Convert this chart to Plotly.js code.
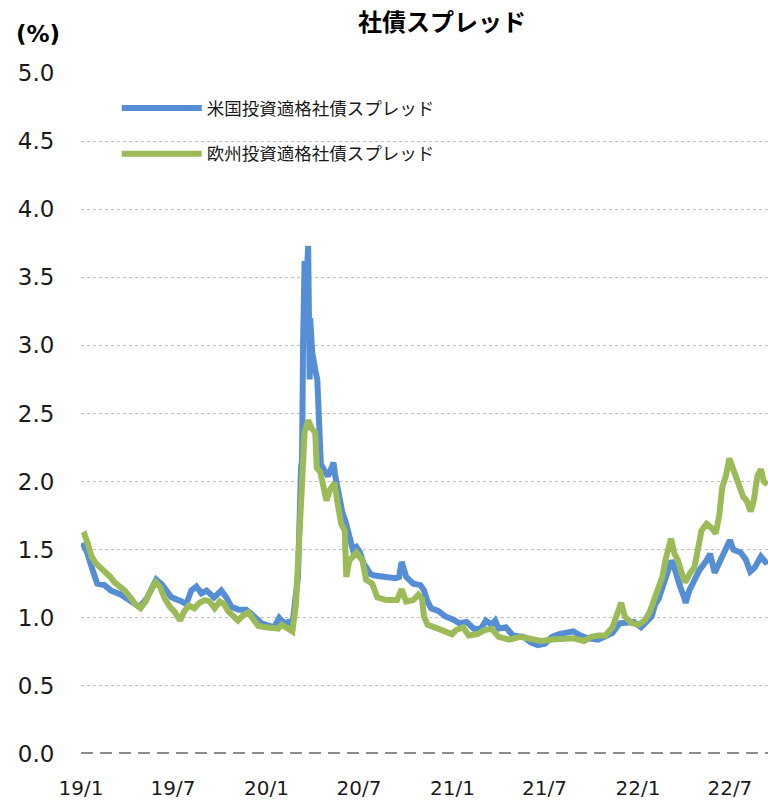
<!DOCTYPE html>
<html>
<head>
<meta charset="utf-8">
<script src="https://cdn.plot.ly/plotly-3.0.1.min.js"></script>
<style>
  html, body { margin: 0; padding: 0; background: #ffffff; }
  #chart { width: 768px; height: 800px; }
</style>
</head>
<body>
<div id="chart"></div>
<script>
// 米国投資適格社債スプレッド (%)
const usDates = [
  "2019-01-04","2019-01-13","2019-01-23","2019-02-02","2019-02-16","2019-03-01","2019-03-21","2019-04-10",
  "2019-04-26","2019-05-10","2019-05-29","2019-06-10","2019-06-28","2019-07-18","2019-07-27","2019-08-06",
  "2019-08-16","2019-08-26","2019-09-05","2019-09-20","2019-10-04","2019-10-14","2019-10-24","2019-11-07",
  "2019-11-22","2019-12-02","2019-12-22","2020-01-16","2020-01-26","2020-02-05","2020-02-14","2020-02-21",
  "2020-02-28","2020-03-03","2020-03-09","2020-03-11","2020-03-13","2020-03-16","2020-03-19","2020-03-23",
  "2020-03-26","2020-03-27","2020-03-31","2020-04-03","2020-04-07","2020-04-10","2020-04-14","2020-04-17",
  "2020-04-24","2020-05-01","2020-05-08","2020-05-12","2020-05-15","2020-05-22","2020-05-29","2020-06-05",
  "2020-06-12","2020-06-19","2020-06-26","2020-07-03","2020-07-10","2020-07-17","2020-07-24","2020-07-31",
  "2020-08-14","2020-08-28","2020-09-11","2020-09-18","2020-09-23","2020-10-02","2020-10-16","2020-10-30",
  "2020-11-06","2020-11-13","2020-11-20","2020-12-04","2020-12-18","2021-01-01","2021-01-15","2021-01-29",
  "2021-02-12","2021-02-26","2021-03-08","2021-03-19","2021-03-26","2021-04-02","2021-04-16","2021-04-30",
  "2021-05-21","2021-06-04","2021-06-18","2021-07-02","2021-07-16","2021-07-30","2021-08-13","2021-08-27",
  "2021-09-10","2021-09-24","2021-10-15","2021-10-29","2021-11-12","2021-11-26","2021-12-10","2021-12-24",
  "2022-01-07","2022-01-21","2022-01-28","2022-02-04","2022-02-11","2022-02-18","2022-02-25","2022-03-04",
  "2022-03-08","2022-03-11","2022-03-18","2022-03-25","2022-04-01","2022-04-05","2022-04-12","2022-04-22",
  "2022-05-02","2022-05-16","2022-05-23","2022-06-01","2022-06-10","2022-06-22","2022-07-01","2022-07-08",
  "2022-07-22","2022-08-01","2022-08-10","2022-08-19","2022-08-31","2022-09-09","2022-09-14"
];
const usSpread = [
  1.55,1.48,1.36,1.25,1.24,1.20,1.17,1.12,
  1.08,1.14,1.28,1.24,1.15,1.12,1.10,1.20,
  1.23,1.18,1.20,1.15,1.20,1.15,1.08,1.06,
  1.06,1.03,0.96,0.93,1.00,0.96,0.97,0.95,
  1.25,1.30,2.10,2.16,3.00,3.62,3.40,3.73,
  2.75,3.20,2.95,2.85,2.80,2.75,2.35,2.13,
  2.08,2.04,2.10,2.14,2.05,1.88,1.78,1.70,
  1.60,1.50,1.52,1.48,1.40,1.35,1.32,1.31,
  1.30,1.29,1.29,1.30,1.41,1.30,1.25,1.24,
  1.20,1.12,1.07,1.05,1.01,0.99,0.96,0.97,
  0.92,0.92,0.98,0.95,0.98,0.92,0.93,0.87,
  0.86,0.82,0.80,0.81,0.86,0.88,0.89,0.90,
  0.87,0.85,0.84,0.86,0.89,0.96,0.96,0.97,
  0.93,0.98,1.01,1.10,1.14,1.22,1.30,1.35,
  1.42,1.40,1.30,1.23,1.16,1.11,1.20,1.28,
  1.35,1.42,1.47,1.33,1.40,1.50,1.57,1.50,
  1.48,1.43,1.34,1.37,1.45,1.41,1.42
];

// 欧州投資適格社債スプレッド (%)
const euDates = [
  "2019-01-04","2019-01-08","2019-01-14","2019-01-22","2019-01-30","2019-02-08","2019-02-18","2019-02-28",
  "2019-03-08","2019-03-18","2019-03-28","2019-04-08","2019-04-18","2019-04-28","2019-05-08","2019-05-18",
  "2019-05-28","2019-06-05","2019-06-15","2019-06-25","2019-07-05","2019-07-15","2019-07-22","2019-08-01",
  "2019-08-12","2019-08-22","2019-09-01","2019-09-11","2019-09-21","2019-10-01","2019-10-10","2019-10-17",
  "2019-10-27","2019-11-06","2019-11-16","2019-11-26","2019-12-06","2019-12-16","2019-12-31","2020-01-14",
  "2020-01-24","2020-01-31","2020-02-10","2020-02-21","2020-02-28","2020-03-06","2020-03-10","2020-03-16",
  "2020-03-23","2020-03-30","2020-04-06","2020-04-09","2020-04-16","2020-04-20","2020-04-28","2020-05-05",
  "2020-05-14","2020-05-20","2020-05-27","2020-06-03","2020-06-06","2020-06-12","2020-06-26","2020-07-08",
  "2020-07-15","2020-07-27","2020-08-06","2020-08-24","2020-09-14","2020-09-23","2020-10-02","2020-10-16",
  "2020-10-26","2020-11-02","2020-11-06","2020-11-13","2020-11-27","2020-12-11","2020-12-31","2021-01-08",
  "2021-01-22","2021-02-02","2021-02-19","2021-03-05","2021-03-19","2021-04-02","2021-04-23","2021-05-14",
  "2021-06-04","2021-06-25","2021-07-16","2021-08-06","2021-08-27","2021-09-17","2021-10-01","2021-10-15",
  "2021-10-29","2021-11-12","2021-11-22","2021-11-29","2021-12-06","2021-12-20","2022-01-03","2022-01-14",
  "2022-01-24","2022-02-04","2022-02-11","2022-02-18","2022-02-24","2022-03-01","2022-03-07","2022-03-14",
  "2022-03-21","2022-03-28","2022-04-04","2022-04-14","2022-04-22","2022-04-29","2022-05-06","2022-05-16",
  "2022-05-26","2022-06-03","2022-06-10","2022-06-16","2022-06-23","2022-06-30","2022-07-06","2022-07-13",
  "2022-07-20","2022-07-27","2022-08-03","2022-08-11","2022-08-17","2022-08-24","2022-08-31","2022-09-06",
  "2022-09-13"
];
const euSpread = [
  1.60,1.61,1.55,1.45,1.40,1.37,1.33,1.30,
  1.26,1.23,1.20,1.15,1.10,1.07,1.12,1.20,
  1.26,1.23,1.14,1.08,1.04,0.98,1.04,1.09,
  1.07,1.11,1.13,1.12,1.07,1.12,1.10,1.05,
  1.02,0.98,1.02,1.04,0.99,0.94,0.93,0.93,
  0.92,0.95,0.92,0.90,1.10,1.55,1.81,2.36,
  2.45,2.39,2.36,2.10,2.07,1.99,1.86,1.94,
  1.99,1.84,1.69,1.64,1.30,1.42,1.48,1.42,
  1.28,1.25,1.15,1.13,1.13,1.21,1.12,1.13,
  1.17,1.14,1.01,0.95,0.93,0.91,0.88,0.91,
  0.93,0.87,0.88,0.91,0.92,0.86,0.84,0.86,
  0.84,0.83,0.84,0.84,0.85,0.83,0.86,0.87,
  0.87,0.93,1.05,1.11,1.01,0.96,0.95,0.98,
  1.04,1.15,1.23,1.30,1.42,1.48,1.58,1.47,
  1.42,1.33,1.26,1.33,1.37,1.50,1.64,1.69,
  1.66,1.62,1.75,1.96,2.04,2.17,2.11,2.04,
  1.99,1.89,1.86,1.78,1.86,2.04,2.09,2.00,
  1.98
];

const seriesNames = ["米国投資適格社債スプレッド", "欧州投資適格社債スプレッド"];
const tickDates = ["2019-01-01","2019-07-01","2020-01-01","2020-07-01","2021-01-01","2021-07-01","2022-01-01","2022-07-01"];
const tickLabels = ["19/1","19/7","20/1","20/7","21/1","21/7","22/1","22/7"];
const yTicks = [0, 0.5, 1, 1.5, 2, 2.5, 3, 3.5, 4, 4.5, 5];
const yTickLabels = ["0.0","0.5","1.0","1.5","2.0","2.5","3.0","3.5","4.0","4.5","5.0"];

const jpFont = "Noto Sans CJK JP, sans-serif";
const numFont = "DejaVu Sans, Verdana, sans-serif";

const traces = [
  {
    x: usDates, y: usSpread, name: seriesNames[0], type: "scatter", mode: "lines",
    legendgroup: "us",
    line: { color: "#558ED5", width: 6 }
  },
  {
    x: euDates, y: euSpread, name: seriesNames[1], type: "scatter", mode: "lines",
    legendgroup: "eu",
    line: { color: "#9BBB59", width: 6 }
  }
];

const layout = {
  width: 768,
  height: 800,
  margin: { l: 81, r: 0, t: 73, b: 46 },
  paper_bgcolor: "#ffffff",
  plot_bgcolor: "#ffffff",
  title: {
    text: "<b>社債スプレッド</b>",
    font: { family: jpFont, size: 24, color: "#000000" },
    xref: "container", x: 0.5755, xanchor: "center",
    yref: "container", y: 0.972, yanchor: "middle"
  },
  xaxis: {
    type: "date",
    range: ["2019-01-01", "2022-09-14"],
    tickmode: "array",
    tickvals: tickDates,
    ticktext: tickLabels,
    ticks: "outside",
    ticklen: 16,
    tickcolor: "rgba(0,0,0,0)",
    tickfont: { family: numFont, size: 20, color: "#1a1a1a" },
    showgrid: false,
    zeroline: false,
    showline: false
  },
  yaxis: {
    range: [0, 5],
    tickmode: "array",
    tickvals: yTicks,
    ticktext: yTickLabels,
    ticks: "outside",
    ticklen: 21,
    tickcolor: "rgba(0,0,0,0)",
    tickfont: { family: numFont, size: 23, color: "#1a1a1a" },
    showgrid: true,
    gridcolor: "#bfbfbf",
    gridwidth: 1,
    griddash: "3px,3px",
    zeroline: false,
    showline: false
  },
  showlegend: true,
  legend: {
    x: 0.052, xanchor: "left",
    y: 0.975, yanchor: "top",
    bgcolor: "rgba(255,255,255,0)",
    font: { family: jpFont, size: 17.5, color: "#1a1a1a" },
    itemwidth: 80,
    traceorder: "grouped",
    tracegroupgap: 20
  },
  shapes: [
    {
      type: "line", xref: "paper", yref: "y",
      x0: 0, x1: 1, y0: 0, y1: 0,
      line: { color: "#8c8c8c", width: 4, dash: "12px,7px" },
      layer: "below"
    }
  ],
  annotations: [
    {
      text: "<b>(%)</b>",
      xref: "paper", yref: "paper",
      x: -0.063, xanchor: "center",
      y: 1.058, yanchor: "middle",
      showarrow: false,
      font: { family: numFont, size: 23, color: "#000000" }
    }
  ]
};

Plotly.newPlot("chart", traces, layout, { displayModeBar: false, staticPlot: true });
</script>
</body>
</html>
